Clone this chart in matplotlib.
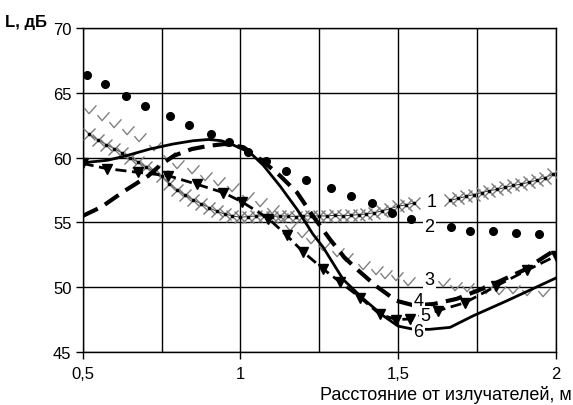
import numpy as np
import matplotlib
matplotlib.use("Agg")
import matplotlib.pyplot as plt
from matplotlib.path import Path

plt.rcParams['font.family'] = ['Liberation Sans', 'DejaVu Sans']

nan = np.nan

# Series 1 (gray X markers)
x1 = [0.52, 0.55, 0.575, 0.6, 0.625, 0.65, 0.675, 0.7, 0.725, 0.75, 0.775, 0.8, 0.825, 0.85,
      0.875, 0.9, 0.925, 0.95, 0.975, 1.0, 1.025, 1.05, 1.075, 1.1, 1.125, 1.15, 1.175, 1.2,
      1.225, 1.25, 1.275, 1.3, 1.325, 1.35, 1.375, 1.4, 1.425, 1.45, 1.475, 1.5, 1.525, 1.55,
      1.6, 1.665, 1.69, 1.715, 1.74, 1.765, 1.79, 1.815, 1.84, 1.865, 1.89, 1.915, 1.94, 1.965, 1.99]
y1 = [61.8, 61.35, 61.0, 60.7, 60.35, 60.0, 59.65, 59.3, 58.95, 58.55, 58.0, 57.5, 57.1, 56.75,
      56.45, 56.15, 55.85, 55.65, 55.5, 55.4, 55.45, 55.5, 55.5, 55.45, 55.5, 55.5, 55.45, 55.5,
      55.5, 55.5, 55.5, 55.55, 55.5, 55.55, 55.6, 55.65, 55.75, 55.9, 56.05, 56.25, 56.35, 56.5,
      nan, 56.7, 56.85, 57.0, 57.15, 57.3, 57.45, 57.55, 57.7, 57.85, 57.95, 58.1, 58.25, 58.45, 58.7]

# Series 2 (black dots)
x2 = [0.515, 0.571, 0.636, 0.699, 0.776, 0.838, 0.907, 0.965, 1.024, 1.082, 1.145, 1.208,
      1.287, 1.35, 1.416, 1.482, 1.54, 1.668, 1.729, 1.8, 1.874, 1.948]
y2 = [66.4, 65.7, 64.75, 63.95, 63.2, 62.5, 61.8, 61.2, 60.4, 59.7, 59.0, 58.3,
      57.65, 57.0, 56.5, 55.75, 55.3, 54.67, 54.36, 54.3, 54.2, 54.13]

# Series 3 (gray check marks)
x3 = [0.52, 0.56, 0.6, 0.64, 0.68, 0.725, 0.77, 0.8, 0.846, 0.888, 0.93, 0.972, 1.02, 1.062,
      1.1, 1.13, 1.157, 1.194, 1.225, 1.262, 1.305, 1.336, 1.39, 1.43, 1.46, 1.495, 1.533,
      1.643, 1.68, 1.718, 1.75, 1.78, 1.82, 1.865, 1.91, 1.96]
y3 = [63.75, 63.2, 62.65, 62.1, 61.6, 60.9, 60.1, 59.5, 59.1, 58.6, 58.2, 57.7, 57.05, 56.55,
      56.0, 55.4, 54.75, 54.2, 53.7, 53.2, 52.7, 52.3, 51.7, 51.3, 51.0, 50.9, 50.5,
      50.4, 50.1, 50.0, 49.9, 49.86, 49.8, 49.86, 49.7, 49.6]

# Series 4 (thick dashed)
x4 = [0.5, 0.56, 0.634, 0.67, 0.708, 0.75, 0.79, 0.846, 0.898, 0.95, 1.01, 1.07, 1.126, 1.18,
      1.23, 1.284, 1.33, 1.369, 1.43, 1.495, 1.55, 1.612, 1.686, 1.79, 1.897, 2.0]
y4 = [55.5, 56.2, 57.45, 58.0, 58.6, 59.5, 60.15, 60.66, 60.9, 61.05, 60.8, 59.75, 58.6, 57.3,
      55.5, 53.7, 52.3, 51.4, 50.1, 48.95, 48.6, 48.7, 49.1, 50.1, 51.3, 52.9]

# Series 5 (dashed with triangles)
x5 = [0.5, 0.576, 0.676, 0.772, 0.861, 0.946, 1.004, 1.089, 1.147, 1.2, 1.263, 1.316, 1.38,
      1.443, 1.495, 1.538, 1.628, 1.712, 1.812, 1.908, 2.0]
y5 = [59.55, 59.15, 58.86, 58.6, 57.95, 57.3, 56.6, 55.3, 54.0, 52.7, 51.4, 50.4, 49.2,
      47.9, 47.5, 47.55, 48.2, 48.8, 50.1, 51.3, 52.4]

# Series 6 (solid)
x6 = [0.5, 0.58, 0.639, 0.713, 0.787, 0.85, 0.9, 0.94, 0.97, 1.03, 1.073, 1.126, 1.18, 1.23,
      1.262, 1.326, 1.39, 1.453, 1.5, 1.55, 1.6, 1.665, 1.739, 1.845, 2.0]
y6 = [59.6, 59.8, 60.15, 60.66, 61.05, 61.3, 61.4, 61.3, 61.05, 60.4, 59.4, 57.8, 56.0, 54.1,
      53.1, 50.6, 49.1, 47.8, 47.0, 46.75, 46.75, 46.9, 47.8, 48.95, 50.7]

labels = ['1', '2', '3', '4', '5', '6']
label_x = [1.607, 1.6, 1.6, 1.565, 1.585, 1.565]
label_y = [56.6, 54.7, 50.6, 48.95, 47.8, 46.6]

xticks = [0.5, 1.0, 1.5, 2.0]
xticklabels = ['0,5', '1', '1,5', '2']
xminor = [0.75, 1.25, 1.75]
yticks = [45, 50, 55, 60, 65, 70]

fig = plt.figure(figsize=(5.73, 4.06), dpi=100)
ax = fig.add_axes([0.1443, 0.1305, 0.8255, 0.7981])

ax.set_xlim(0.5, 2.0)
ax.set_ylim(45, 70)
ax.set_xticks(xticks)
ax.set_xticklabels(xticklabels)
ax.set_xticks(xminor, minor=True)
ax.set_yticks(yticks)
ax.grid(True, which='both', color='black', linewidth=1.0, zorder=0)
ax.set_axisbelow(True)
for s in ax.spines.values():
    s.set_color('black')
    s.set_linewidth(1.0)
ax.tick_params(axis='both', which='major', length=5, width=1, color='black',
               labelsize=12, direction='out')
ax.tick_params(axis='x', which='major', pad=5)
ax.tick_params(axis='y', which='major', pad=3)
ax.tick_params(axis='x', which='minor', length=0)

# check-mark marker
check = Path([(-0.55, 0.15), (-0.05, -0.45), (0.75, 0.45)],
             [Path.MOVETO, Path.LINETO, Path.LINETO])

ax.plot(x1, y1, color='#333333', lw=0.7, zorder=3)
ax.plot(x1, y1, ls='none', marker='x', ms=8, mew=1.0, color='#7a7a7a', zorder=3)
ax.plot(x1, y1, ls='none', marker='o', ms=1.6, color='black', zorder=3)

ax.plot(x2, y2, ls='none', marker='o', ms=5.5, color='black', zorder=4)

ax.plot(x3, y3, ls='none', marker=check, ms=10, mew=1.0, mfc='none', mec='#808080', zorder=3)

ax.plot(x4, y4, color='black', lw=3.0, dashes=(4, 2), zorder=5)
ax.plot(x5, y5, color='black', lw=2.0, dashes=(4, 2), marker='v', ms=6.5, zorder=5)
ax.plot(x6, y6, color='black', lw=2.0, zorder=5)

for lab, lx, ly in zip(labels, label_x, label_y):
    ax.text(lx, ly, lab, fontsize=13, ha='center', va='center', zorder=10,
            bbox=dict(facecolor='white', edgecolor='none', pad=0.8))

fig.text(5 / 573, 1 - 23 / 406, 'L, дБ', fontsize=12, fontweight='bold', ha='left', va='center')
fig.text(572 / 573, 1 - 395 / 406, 'Расстояние от излучателей, м', fontsize=13,
         ha='right', va='center')

fig.savefig('out.png', dpi=100)
